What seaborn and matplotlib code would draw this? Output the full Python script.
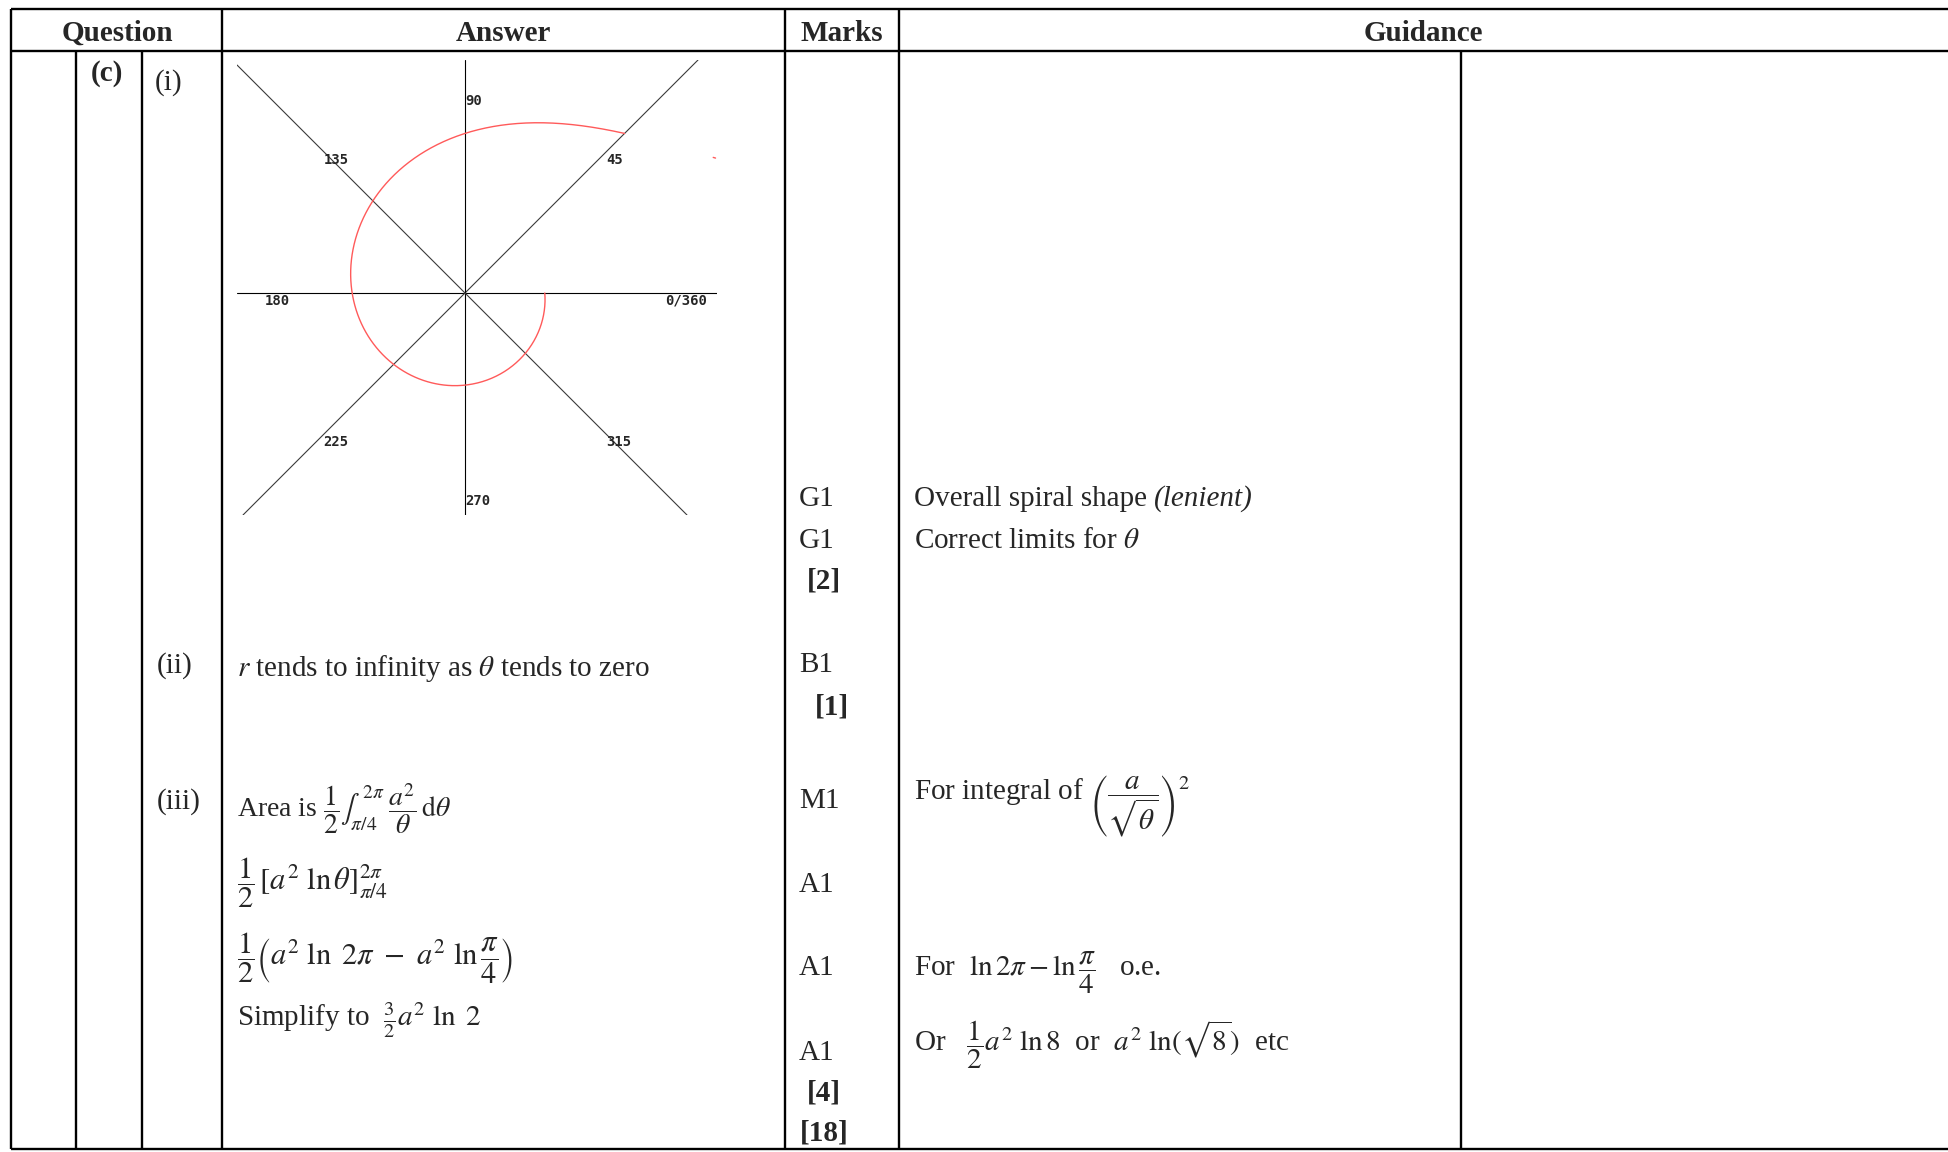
import numpy as np
import pandas as pd
import matplotlib.pyplot as plt
import seaborn as sns

sns.set_theme(style="white")
plt.rcParams['font.family'] = ['Liberation Serif', 'DejaVu Serif']
plt.rcParams['mathtext.fontset'] = 'stix'

# spiral r = a / sqrt(theta), drawn for pi/4 <= theta <= 2pi
a = 1.0
theta_start = np.pi / 4
theta_end = 2 * np.pi
stray_theta = [0.494, 0.500]   # the little red mark right of the 45 label

ray_angles = [0, 45, 90, 135, 180, 225, 270, 315]
ray_labels = ["0/360", "45", "90", "135", "180", "225", "270", "315"]

headers = ["Question", "Answer", "Marks", "Guidance"]
part_labels = ["(c)", "(i)", "(ii)", "(iii)"]
answers = [
    r"$r$ tends to infinity as $\theta$ tends to zero",
    r"Area is $\dfrac{1}{2}\int_{\pi/4}^{\,2\pi}\;\dfrac{a^2}{\theta}\,\mathrm{d}\theta$",
    r"$\dfrac{1}{2}\,[a^2\ \ln\theta]_{\pi/4}^{2\pi}$",
    r"$\dfrac{1}{2}\left(a^2\ \ln\ 2\pi\ -\ a^2\ \ln\dfrac{\pi}{4}\right)$",
    r"Simplify to  $\frac{3}{2}a^2\ \ln\ 2$",
]
marks = ["G1", "G1", "[2]", "B1", "[1]", "M1", "A1", "A1", "A1", "[4]", "[18]"]
guidance = [
    ("Overall spiral shape ", "(lenient)"),
    (r"Correct limits for $\theta$", ""),
    (r"For integral of $\left(\dfrac{a}{\sqrt{\theta}}\right)^{2}$", ""),
    (r"For  $\ln 2\pi - \ln\dfrac{\pi}{4}$   o.e.", ""),
    (r"Or   $\dfrac{1}{2}a^2\ \ln 8$  or  $a^2\ \ln(\sqrt{8})$  etc", ""),
]

# ---- layout (pixels of the 1948x1152 page) ----
W, H = 1948, 1152
header_x = [117, 503, 842, 1423]
part_pos = [(91, 81), (155, 90), (157, 673), (157, 809)]
answer_y = [676, 817, 890, 965, 1026]
answer_fs = [21, 20, 22, 22, 21]
mark_x = [799, 799, 807, 799, 815, 799, 799, 799, 799, 807, 800]
mark_y = [506, 548, 589, 672, 714, 808, 892, 975, 1060, 1100, 1141]
guide_y = [506, 548, 800, 976, 1051]

fig = plt.figure(figsize=(W / 100, H / 100), dpi=100)
ax = fig.add_axes([0, 0, 1, 1])
ax.set_xlim(0, W)
ax.set_ylim(H, 0)
ax.axis('off')

lw = 1.7
top, head_bot, bottom = 9, 51, 1149
for y in [top, head_bot, bottom]:
    ax.plot([11, W], [y, y], color='black', lw=lw, solid_capstyle='butt')
for x in [11, 222, 785, 899]:
    ax.plot([x, x], [top, bottom], color='black', lw=lw, solid_capstyle='butt')
for x in [76, 142, 1461]:
    ax.plot([x, x], [head_bot, bottom], color='black', lw=lw, solid_capstyle='butt')

fs = 21
for txt, x in zip(headers, header_x):
    ax.text(x, 41, txt, ha='center', va='baseline', fontsize=fs, fontweight='bold')

for i, (txt, (x, y)) in enumerate(zip(part_labels, part_pos)):
    ax.text(x, y, txt, ha='left', va='baseline', fontsize=fs,
            fontweight='bold' if i == 0 else 'normal')

for txt, y, s in zip(answers, answer_y, answer_fs):
    ax.text(237, y, txt, ha='left', va='baseline', fontsize=s)

for txt, x, y in zip(marks, mark_x, mark_y):
    ax.text(x, y, txt, ha='left', va='baseline', fontsize=fs,
            fontweight='bold' if txt.startswith('[') else 'normal')

for (txt, ital), y in zip(guidance, guide_y):
    t = ax.text(914, y, txt, ha='left', va='baseline', fontsize=fs)
    if ital:
        # italic tail placed right after the upright part
        ax.annotate(ital, xy=(1, 0), xycoords=t, ha='left', va='bottom',
                    fontsize=fs, style='italic')

# ---- polar sketch ----
ax_sp = fig.add_axes([237 / W, 1 - 515 / H, 480 / W, 455 / H])
ax_sp.set_xlim(-1.14, 1.26)
ax_sp.set_ylim(-1.11, 1.165)
ax_sp.axis('off')

for ang in ray_angles[:4]:
    t = np.deg2rad(ang)
    col = 'black' if ang % 90 == 0 else '#3a3a3a'
    ax_sp.axline((0, 0), (np.cos(t), np.sin(t)), color=col, lw=0.8)

for ang, lab in zip(ray_angles, ray_labels):
    t = np.deg2rad(ang)
    ax_sp.text(np.cos(t), np.sin(t) - 0.005, lab, ha='left', va='top',
               fontfamily='DejaVu Sans Mono', fontweight='bold', fontsize=10)

theta = np.linspace(theta_start, theta_end, 500)
r = a / np.sqrt(theta)
spiral = pd.DataFrame({'x': r * np.cos(theta), 'y': r * np.sin(theta)})
sns.lineplot(data=spiral, x='x', y='y', sort=False, estimator=None,
             color='#ff5a5a', lw=1.0, ax=ax_sp)

ts = np.array(stray_theta)
rs = a / np.sqrt(ts)
stray = pd.DataFrame({'x': rs * np.cos(ts), 'y': rs * np.sin(ts)})
sns.lineplot(data=stray, x='x', y='y', sort=False, estimator=None,
             color='#ff5a5a', lw=1.0, ax=ax_sp)
ax_sp.set_xlim(-1.14, 1.26)
ax_sp.set_ylim(-1.11, 1.165)
ax_sp.set_xlabel('')
ax_sp.set_ylabel('')

fig.savefig('out.png', dpi=100)
